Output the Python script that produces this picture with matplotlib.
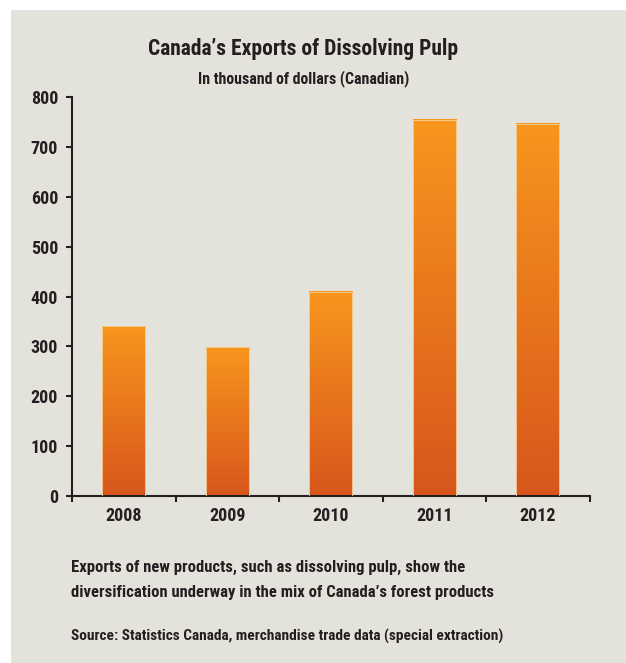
import numpy as np
import matplotlib.pyplot as plt
from matplotlib.colors import LinearSegmentedColormap
from matplotlib.patches import Rectangle

years = ['2008', '2009', '2010', '2011', '2012']
exports = [340, 298, 410, 754, 746]
yticks = [0, 100, 200, 300, 400, 500, 600, 700, 800]

title = "Canada\u2019s Exports of Dissolving Pulp"
subtitle = "In thousand of dollars (Canadian)"
caption = ("Exports of new products, such as dissolving pulp, show the\n"
           "diversification underway in the mix of Canada\u2019s forest products")
source = "Source: Statistics Canada, merchandise trade data (special extraction)"

bg = '#e4e3db'
ink = '#231f20'
fam = ['Roboto Condensed', 'DejaVu Sans']
plt.rcParams['font.family'] = fam
plt.rcParams['font.weight'] = 'bold'
plt.rcParams['font.stretch'] = 'condensed'

fig = plt.figure(figsize=(6.26, 6.63), dpi=100)
fig.patch.set_facecolor('white')
fig.patches.append(Rectangle((11 / 626, 0), 1, 1 - 10 / 663, transform=fig.transFigure,
                             facecolor=bg, edgecolor='none', zorder=-10))

ax = fig.add_axes([72 / 626, 1 - 496 / 663, (589.5 - 72) / 626, (496 - 97) / 663])
ax.set_facecolor(bg)
ax.patch.set_alpha(0)

cmap = LinearSegmentedColormap.from_list('pulp', ['#d8561b', '#f7961e'])
grad = np.linspace(0, 1, 256).reshape(-1, 1)
x = np.arange(len(years))
w = 0.42
for xi, v in zip(x, exports):
    ax.imshow(grad, cmap=cmap, origin='lower', aspect='auto',
              extent=[xi - w / 2, xi + w / 2, 0, v], zorder=2)
    ax.add_patch(Rectangle((xi - w / 2, 0), w, v, facecolor='none',
                           edgecolor='#f5d3a0', lw=0.6, zorder=3))

ax.set_xlim(-0.5, len(years) - 0.5)
ax.set_ylim(0, 800)
ax.set_yticks(yticks)
ax.set_xticks(x)
ax.set_xticklabels(years)
ax.set_xticks(np.arange(-0.5, len(years)), minor=True)

for s in ['top', 'right']:
    ax.spines[s].set_visible(False)
for s in ['left', 'bottom']:
    ax.spines[s].set_linewidth(1.5)
    ax.spines[s].set_color(ink)

ax.tick_params(axis='y', length=4, width=1.5, color=ink, pad=6,
               labelsize=13, labelcolor=ink)
ax.tick_params(axis='x', which='major', length=0, pad=8,
               labelsize=13, labelcolor=ink)
ax.tick_params(axis='x', which='minor', length=4, width=1.5, color=ink)

fig.text(303 / 626, 1 - 49 / 663, title, ha='center', va='center',
         fontsize=15.5, color=ink, fontweight='bold')
fig.text(304 / 626, 1 - 79 / 663, subtitle, ha='center', va='center',
         fontsize=11.4, color=ink, fontweight='bold')
fig.text(71 / 626, 1 - 580 / 663, caption, ha='left', va='center',
         fontsize=12, color=ink, fontweight='bold', linespacing=1.9)
fig.text(71 / 626, 1 - 636 / 663, source, ha='left', va='center',
         fontsize=11.1, color=ink, fontweight='bold')

fig.savefig('out.png', dpi=100, facecolor='white')
